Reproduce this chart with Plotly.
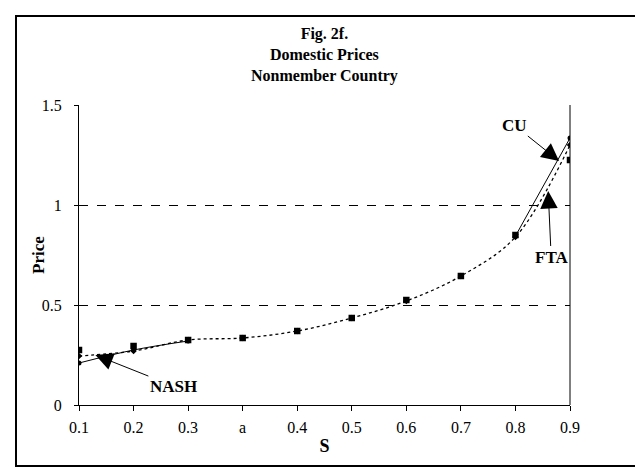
import plotly.graph_objects as go

categories = ["0.1", "0.2", "0.3", "a", "0.4", "0.5", "0.6", "0.7", "0.8", "0.9"]
cu_values = [0.21, 0.275, 0.32, None, None, None, None, None, 0.845, 1.335]
fta_values = [0.245, 0.27, 0.325, 0.335, 0.37, 0.435, 0.52, 0.645, 0.84, 1.30]
nash_values = [0.275, 0.295, 0.325, 0.335, 0.37, 0.435, 0.525, 0.645, 0.85, 1.225]
y_ticks = [0, 0.5, 1, 1.5]
y_ticktext = ["0", "0.5", "1", "1.5"]
title_lines = ["Fig. 2f.", "Domestic Prices", "Nonmember Country"]

xpos = list(range(len(categories)))
FONT = "Liberation Serif"

fig = go.Figure()
fig.add_trace(go.Scatter(x=xpos, y=fta_values, mode="lines+markers", name="FTA",
                         line=dict(color="black", width=1.3, dash="dot", shape="spline"),
                         marker=dict(symbol="diamond", size=5, color="black")))
fig.add_trace(go.Scatter(x=xpos, y=cu_values, mode="lines+markers", name="CU",
                         line=dict(color="black", width=1, shape="spline"),
                         marker=dict(symbol="circle", size=5, color="black")))
fig.add_trace(go.Scatter(x=xpos, y=nash_values, mode="markers", name="NASH",
                         marker=dict(symbol="square", size=6.5, color="black")))

fig.update_layout(
    width=643, height=468,
    margin=dict(l=71, r=81, t=97, b=71),
    paper_bgcolor="white", plot_bgcolor="white",
    showlegend=False,
    font=dict(family=FONT, size=15, color="black"),
    xaxis=dict(range=[0, 9], tickvals=xpos, ticktext=categories, showgrid=False,
               zeroline=False, showline=True, linecolor="black", linewidth=1,
               ticks="outside", ticklen=5, tickcolor="black", ticklabelstandoff=3,
               title=dict(text="<b>S</b>", font=dict(size=18), standoff=4),
               tickfont=dict(size=16)),
    yaxis=dict(range=[0, 1.5], tickvals=y_ticks, ticktext=y_ticktext,
               showgrid=True, gridcolor="black", griddash="dash", gridwidth=1,
               zeroline=False, showline=True, linecolor="black", linewidth=1,
               ticks="outside", ticklen=4, tickcolor="black", ticklabelstandoff=9,
               tickfont=dict(size=16)),
)

# y-axis title
fig.add_annotation(xref="paper", yref="paper", x=(30 - 71) / 491, y=0.5,
                   text="<b>Price</b>", textangle=-90, showarrow=False,
                   font=dict(size=17), xanchor="center", yanchor="middle")

# right border of plot area
fig.add_shape(type="line", xref="paper", yref="paper", x0=1, x1=1, y0=0, y1=1,
              line=dict(color="black", width=1))
# outer chart border
fig.add_shape(type="rect", xref="paper", yref="paper",
              x0=(8 - 71) / 491, x1=(635 - 71) / 491,
              y0=(397 - 458) / 300, y1=(397 - 8) / 300,
              line=dict(color="black", width=2))

fig.add_annotation(xref="paper", yref="paper", x=0.5, y=(397 - 47) / 300,
                   text="<br>".join("<b>" + t + "</b>" for t in title_lines),
                   showarrow=False, font=dict(size=16), align="center",
                   yanchor="middle")

arrow_style = dict(showarrow=True, arrowhead=2, arrowsize=3.5, arrowwidth=1,
                   arrowcolor="black", font=dict(size=17), xref="x", yref="y")
fig.add_annotation(x=8.8, y=1.22, ax=-45, ay=-36, text="<b>CU</b>", **arrow_style)
fig.add_annotation(x=8.6, y=1.07, ax=3, ay=66, text="<b>FTA</b>", **arrow_style)
fig.add_annotation(x=0.3, y=0.25, ax=78, ay=31, text="<b>NASH</b>", **arrow_style)

fig.write_html("out.html")
